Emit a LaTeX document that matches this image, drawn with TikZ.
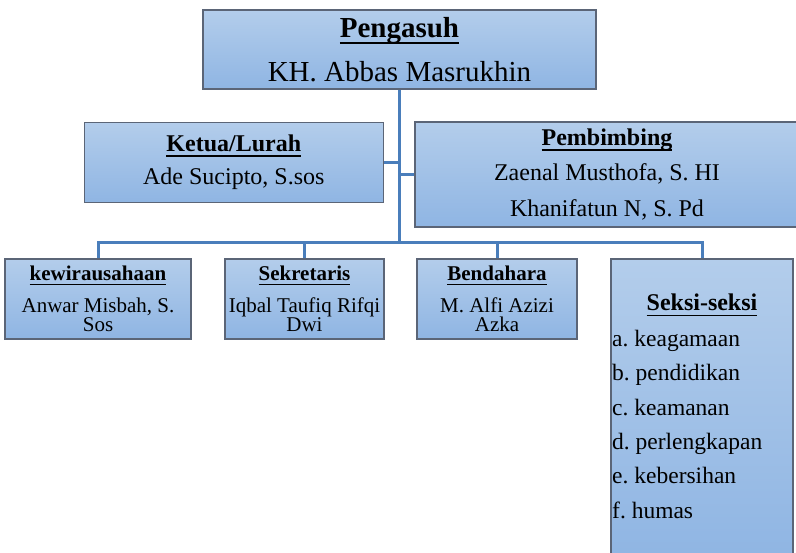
\documentclass[tikz,border=0pt]{standalone}
\usepackage{fontspec}
\setmainfont{Liberation Serif}
\usetikzlibrary{backgrounds}
\frenchspacing
\definecolor{filltop}{HTML}{B3CDEB}
\definecolor{fillbot}{HTML}{8FB5E3}
\definecolor{boxline}{HTML}{5B6577}
\definecolor{connblue}{HTML}{4A7EBB}
\newcommand\hul[1]{\setbox0\hbox{\textbf{#1}}\leavevmode\rlap{\rule[-0.22em]{\wd0}{0.065em}}\box0}
\tikzset{
  orgbox/.style={rectangle, draw=boxline, line width=1.2pt, top color=filltop, bottom color=fillbot, inner sep=0pt, align=center},
  conn/.style={draw=connblue, line width=3pt},
  plaintext/.style={inner sep=0pt}
}
\begin{document}
\begin{tikzpicture}[x=1pt,y=-1pt]
\useasboundingbox (0,0) rectangle (796,553);
% boxes
\node[orgbox, minimum width=393pt, minimum height=79pt, font=\fontsize{29}{44}\selectfont] (top) at (399.5,49.5) {\hul{Pengasuh}\\KH. Abbas Masrukhin};
\node[orgbox, minimum width=299pt, minimum height=80.5pt, font=\fontsize{24}{33}\selectfont] (ketua) at (233.8,162.5) {\hul{Ketua/Lurah}\\Ade Sucipto, S.sos};
\node[orgbox, minimum width=384pt, minimum height=105pt, font=\fontsize{24}{35.5}\selectfont] (pemb) at (607,174.5) {\hul{Pembimbing}\\Zaenal Musthofa, S. HI\\Khanifatun N, S. Pd};
\node[orgbox, minimum width=186pt, minimum height=80pt, font=\fontsize{21}{19.5}\selectfont] (kew) at (98,299) {\hul{kewirausahaan}\\[12pt]Anwar Misbah, S.\\Sos};
\node[orgbox, minimum width=159pt, minimum height=80pt, font=\fontsize{21}{19.5}\selectfont] (sek) at (304.5,299) {\hul{Sekretaris}\\[12pt]Iqbal Taufiq Rifqi\\Dwi};
\node[orgbox, minimum width=160pt, minimum height=80pt, font=\fontsize{21}{19.5}\selectfont] (bend) at (497,299) {\hul{Bendahara}\\[12pt]M. Alfi Azizi\\Azka};
\node[orgbox, minimum width=182pt, minimum height=301pt] (seksi) at (702,409.5) {};
\node[plaintext, anchor=base, font=\fontsize{24}{30}\selectfont] (seksihead) at (702,311) {\hul{Seksi-seksi}};
\node[plaintext, anchor=north west, align=left, font=\fontsize{23.5}{34.3}\selectfont] (seksilist) at (612,330) {a. keagamaan\\b. pendidikan\\c. keamanan\\d. perlengkapan\\e. kebersihan\\f. humas};
% connectors
\begin{scope}[on background layer]
\coordinate (busL) at (kew.north |- 0,243);
\coordinate (busR) at (seksi.north |- 0,243);
\coordinate (busM) at (top.south |- 0,243);
\draw[conn] (top.south) -- (busM);
\draw[conn] (ketua.east) -- (ketua.east -| top.south);
\draw[conn] (pemb.west) -- (pemb.west -| top.south);
\draw[conn] (kew.north) -- (busL) -- (busR) -- (seksi.north);
\draw[conn] (sek.north) -- (sek.north |- busL);
\draw[conn] (bend.north) -- (bend.north |- busL);
\end{scope}
\end{tikzpicture}
\end{document}
